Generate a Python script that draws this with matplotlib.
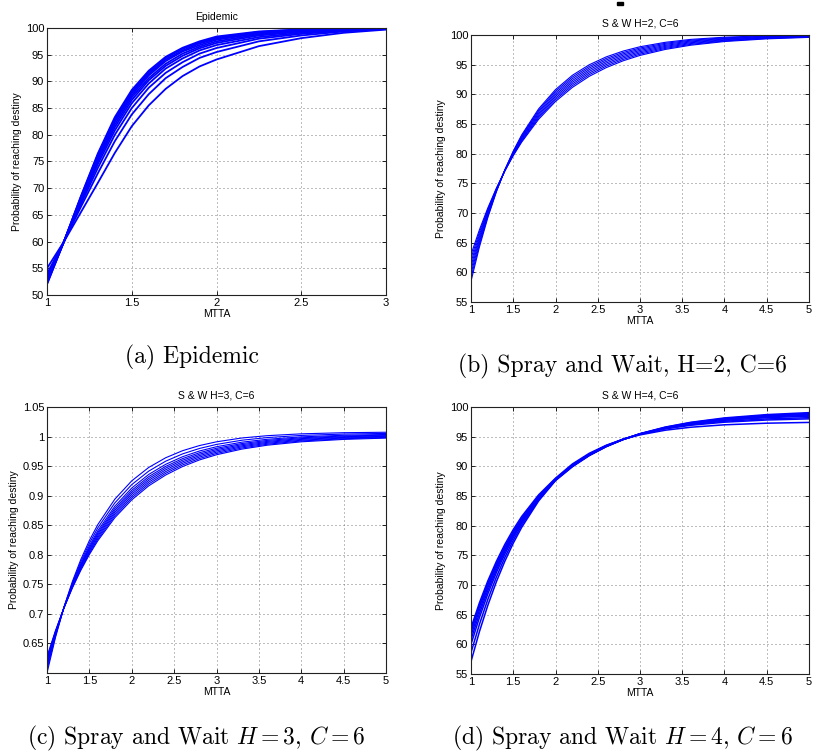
import matplotlib
matplotlib.use('Agg')
import matplotlib.pyplot as plt
from matplotlib.patches import Rectangle

plt.rcParams['font.family'] = ['Liberation Sans', 'DejaVu Sans']
plt.rcParams['mathtext.fontset'] = 'cm'

# ---------------- data ----------------
# (a) Epidemic
x_a = [1.0, 1.1, 1.2, 1.3, 1.4, 1.5, 1.6, 1.7, 1.8, 1.9, 2.0, 2.25, 2.5, 2.75, 3.0]
epidemic_curves = [
    [55.0, 60.0, 65.5, 71.0, 76.6, 81.6, 85.5, 88.6, 91.0, 92.8, 94.1, 96.6, 98.1, 99.1, 99.7],
    [54.0, 60.0, 66.5, 72.8, 78.8, 83.8, 87.6, 90.6, 92.7, 94.4, 95.5, 97.5, 98.6, 99.35, 99.8],
    [53.5, 60.0, 67.0, 73.8, 80.0, 85.0, 88.8, 91.6, 93.6, 95.2, 96.25, 98.0, 98.9, 99.5, 99.85],
    [53.1, 60.0, 67.4, 74.5, 80.8, 85.9, 89.6, 92.4, 94.3, 95.8, 96.8, 98.3, 99.1, 99.6, 99.9],
    [52.8, 60.0, 67.7, 75.0, 81.4, 86.5, 90.2, 92.9, 94.8, 96.2, 97.2, 98.6, 99.3, 99.7, 99.9],
    [52.6, 60.0, 67.9, 75.3, 81.9, 87.0, 90.6, 93.3, 95.2, 96.5, 97.5, 98.8, 99.4, 99.75, 99.95],
    [52.4, 60.0, 68.1, 75.7, 82.4, 87.4, 91.1, 93.8, 95.6, 96.8, 97.8, 99.0, 99.5, 99.8, 99.95],
    [52.3, 60.0, 68.2, 76.0, 82.7, 87.8, 91.4, 94.1, 95.8, 97.1, 98.0, 99.1, 99.6, 99.85, 100.0],
    [52.1, 60.0, 68.4, 76.3, 83.0, 88.1, 91.7, 94.4, 96.1, 97.3, 98.2, 99.25, 99.7, 99.9, 100.0],
    [52.0, 60.0, 68.5, 76.5, 83.3, 88.4, 92.0, 94.6, 96.3, 97.5, 98.4, 99.35, 99.75, 99.9, 100.0],
]

# (b) S & W H=2, C=6
x_b = [1.0, 1.1, 1.2, 1.3, 1.4, 1.5, 1.6, 1.8, 2.0, 2.2, 2.4, 2.6, 2.8, 3.0, 3.3, 3.6, 4.0, 4.5, 5.0]
sw2_curves = [
    [63.0, 67.18, 70.88, 74.17, 77.08, 79.66, 81.95, 85.79, 88.80, 91.17, 93.04, 94.50, 95.65, 96.56, 97.57, 98.28, 98.90, 99.35, 99.60],
    [62.36, 66.77, 70.65, 74.08, 77.10, 79.77, 82.12, 86.04, 89.09, 91.46, 93.32, 94.76, 95.88, 96.77, 97.74, 98.42, 99.00, 99.43, 99.66],
    [61.71, 66.35, 70.42, 74.00, 77.13, 79.88, 82.30, 86.29, 89.37, 91.75, 93.60, 95.02, 96.12, 96.98, 97.91, 98.56, 99.11, 99.50, 99.71],
    [61.07, 65.94, 70.19, 73.91, 77.15, 79.99, 82.47, 86.54, 89.66, 92.04, 93.88, 95.28, 96.35, 97.19, 98.08, 98.70, 99.21, 99.58, 99.77],
    [60.43, 65.53, 69.96, 73.82, 77.18, 80.10, 82.64, 86.79, 89.94, 92.33, 94.16, 95.54, 96.59, 97.40, 98.25, 98.84, 99.32, 99.65, 99.83],
    [59.79, 65.12, 69.73, 73.74, 77.20, 80.21, 82.82, 87.05, 90.23, 92.63, 94.44, 95.80, 96.82, 97.61, 98.43, 98.98, 99.42, 99.73, 99.89],
    [59.14, 64.70, 69.50, 73.65, 77.22, 80.32, 82.99, 87.30, 90.52, 92.92, 94.71, 96.05, 97.05, 97.81, 98.60, 99.12, 99.52, 99.81, 99.94],
    [58.50, 64.29, 69.27, 73.56, 77.25, 80.43, 83.16, 87.55, 90.80, 93.21, 94.99, 96.31, 97.29, 98.02, 98.77, 99.26, 99.63, 99.88, 100.0],
]

# (c) S & W H=3, C=6
x_c = [1.0, 1.1, 1.2, 1.3, 1.4, 1.5, 1.6, 1.8, 2.0, 2.2, 2.4, 2.6, 2.8, 3.0, 3.3, 3.6, 4.0, 4.5, 5.0]
sw3_curves = [
    [0.628, 0.6716, 0.7100, 0.7440, 0.7740, 0.8004, 0.8238, 0.8627, 0.8929, 0.9166, 0.9349, 0.9493, 0.9605, 0.9692, 0.9788, 0.9854, 0.9911, 0.9952, 0.9974],
    [0.6252, 0.6705, 0.7101, 0.7451, 0.7758, 0.8028, 0.8265, 0.8658, 0.8961, 0.9197, 0.9378, 0.9520, 0.9629, 0.9714, 0.9807, 0.9870, 0.9925, 0.9963, 0.9984],
    [0.6224, 0.6693, 0.7103, 0.7462, 0.7777, 0.8051, 0.8293, 0.8690, 0.8993, 0.9228, 0.9407, 0.9547, 0.9654, 0.9736, 0.9826, 0.9886, 0.9938, 0.9975, 0.9994],
    [0.6196, 0.6682, 0.7104, 0.7473, 0.7795, 0.8075, 0.8320, 0.8721, 0.9026, 0.9259, 0.9437, 0.9573, 0.9678, 0.9758, 0.9844, 0.9902, 0.9952, 0.9986, 1.0004],
    [0.6168, 0.6670, 0.7105, 0.7484, 0.7813, 0.8099, 0.8348, 0.8752, 0.9058, 0.9290, 0.9466, 0.9600, 0.9702, 0.9780, 0.9863, 0.9918, 0.9965, 0.9997, 1.0014],
    [0.6140, 0.6659, 0.7107, 0.7495, 0.7832, 0.8123, 0.8375, 0.8784, 0.9090, 0.9322, 0.9495, 0.9627, 0.9727, 0.9802, 0.9882, 0.9935, 0.9979, 1.0009, 1.0024],
    [0.6106, 0.6645, 0.7108, 0.7508, 0.7853, 0.8151, 0.8408, 0.8821, 0.9129, 0.9359, 0.9530, 0.9659, 0.9756, 0.9828, 0.9905, 0.9954, 0.9995, 1.0022, 1.0035],
    [0.6056, 0.6624, 0.7110, 0.7528, 0.7886, 0.8194, 0.8457, 0.8877, 0.9187, 0.9415, 0.9583, 0.9707, 0.9799, 0.9867, 0.9938, 0.9983, 1.0019, 1.0042, 1.0053],
    [0.6000, 0.6601, 0.7113, 0.7550, 0.7923, 0.8241, 0.8512, 0.8940, 0.9251, 0.9477, 0.9641, 0.9761, 0.9848, 0.9911, 0.9976, 1.0015, 1.0046, 1.0065, 1.0073],
]

# (d) S & W H=4, C=6
x_d = [1.0, 1.1, 1.2, 1.3, 1.4, 1.5, 1.6, 1.8, 2.0, 2.2, 2.4, 2.6, 2.8, 3.0, 3.3, 3.6, 4.0, 4.5, 5.0]
sw4_curves = [
    [57.1, 62.16, 66.61, 70.54, 73.99, 77.04, 79.72, 84.16, 87.60, 89.93, 91.81, 93.31, 94.52, 95.50, 96.62, 97.42, 98.16, 98.72, 99.05],
    [58.6, 63.39, 67.61, 71.33, 74.62, 77.53, 80.09, 84.34, 87.65, 89.99, 91.86, 93.35, 94.54, 95.50, 96.58, 97.36, 98.06, 98.59, 98.90],
    [60.0, 64.53, 68.54, 72.08, 75.21, 77.98, 80.43, 84.51, 87.70, 90.02, 91.87, 93.34, 94.51, 95.45, 96.51, 97.27, 97.94, 98.46, 98.75],
    [60.8, 65.20, 69.10, 72.54, 75.59, 78.28, 80.66, 84.64, 87.75, 90.08, 91.92, 93.38, 94.53, 95.45, 96.48, 97.21, 97.85, 98.33, 98.60],
    [61.5, 65.79, 69.59, 72.95, 75.92, 78.55, 80.88, 84.76, 87.80, 90.13, 91.97, 93.42, 94.55, 95.45, 96.45, 97.14, 97.76, 98.20, 98.45],
    [62.1, 66.32, 70.04, 73.34, 76.25, 78.82, 81.09, 84.89, 87.85, 90.22, 92.05, 93.48, 94.59, 95.45, 96.39, 97.04, 97.60, 97.99, 98.20],
    [62.4, 66.59, 70.30, 73.57, 76.45, 79.00, 81.25, 84.99, 87.90, 90.26, 92.08, 93.48, 94.56, 95.40, 96.31, 96.92, 97.44, 97.81, 98.00],
    [62.8, 67.01, 70.72, 73.97, 76.83, 79.34, 81.55, 85.19, 88.00, 90.40, 92.20, 93.55, 94.55, 95.30, 96.09, 96.59, 97.00, 97.27, 97.40],
]

titles = ['Epidemic', 'S & W H=2, C=6', 'S & W H=3, C=6', 'S & W H=4, C=6']
xticks_a = [1, 1.5, 2, 2.5, 3]
xticklabels_a = ['1', '1.5', '2', '2.5', '3']
xticks_bcd = [1, 1.5, 2, 2.5, 3, 3.5, 4, 4.5, 5]
xticklabels_bcd = ['1', '1.5', '2', '2.5', '3', '3.5', '4', '4.5', '5']
yticks_a = [50, 55, 60, 65, 70, 75, 80, 85, 90, 95, 100]
yticks_bd = [55, 60, 65, 70, 75, 80, 85, 90, 95, 100]
yticks_c = [0.65, 0.7, 0.75, 0.8, 0.85, 0.9, 0.95, 1.0, 1.05]
yticklabels_c = ['0.65', '0.7', '0.75', '0.8', '0.85', '0.9', '0.95', '1', '1.05']
captions = ['(a) Epidemic', '(b) Spray and Wait, H=2, C=6',
            '(c) Spray and Wait $H = 3$, $C = 6$', '(d) Spray and Wait $H = 4$, $C = 6$']

# ---------------- figure ----------------
W, H = 814, 754
fig = plt.figure(figsize=(W / 100, H / 100), dpi=100)


def box(l, t, r, b):
    return [l / W, 1 - b / H, (r - l) / W, (b - t) / H]


panels = [
    dict(rect=box(47, 28, 386, 295), x=x_a, ys=epidemic_curves, xlim=(1, 3), ylim=(50, 100),
         xt=xticks_a, xtl=xticklabels_a, yt=yticks_a, ytl=[str(v) for v in yticks_a], lw=1.3),
    dict(rect=box(471, 35, 809, 302), x=x_b, ys=sw2_curves, xlim=(1, 5), ylim=(55, 100),
         xt=xticks_bcd, xtl=xticklabels_bcd, yt=yticks_bd, ytl=[str(v) for v in yticks_bd], lw=0.8),
    dict(rect=box(47, 407, 386, 673), x=x_c, ys=sw3_curves, xlim=(1, 5), ylim=(0.6, 1.05),
         xt=xticks_bcd, xtl=xticklabels_bcd, yt=yticks_c, ytl=yticklabels_c, lw=0.8),
    dict(rect=box(471, 407, 809, 674), x=x_d, ys=sw4_curves, xlim=(1, 5), ylim=(55, 100),
         xt=xticks_bcd, xtl=xticklabels_bcd, yt=yticks_bd, ytl=[str(v) for v in yticks_bd], lw=1.1),
]

for p, title in zip(panels, titles):
    ax = fig.add_axes(p['rect'])
    for y in p['ys']:
        ax.plot(p['x'], y, color='#0000ff', lw=p['lw'], solid_joinstyle='round')
    ax.set_xlim(*p['xlim'])
    ax.set_ylim(*p['ylim'])
    ax.set_xticks(p['xt'])
    ax.set_xticklabels(p['xtl'])
    ax.set_yticks(p['yt'])
    ax.set_yticklabels(p['ytl'])
    ax.grid(True, color='#666666', linestyle=(0, (1.2, 3.6)), linewidth=0.6)
    ax.tick_params(direction='in', length=3, width=0.6, top=True, right=True,
                   labelsize=8, pad=2)
    for s in ax.spines.values():
        s.set_linewidth(0.8)
        s.set_color('#222222')
    ax.set_title(title, fontsize=7.5, pad=6)
    ax.set_xlabel('MTTA', fontsize=7.5, labelpad=1)
    ax.set_ylabel('Probability of reaching destiny', fontsize=7.5, labelpad=3)

cap_pos = [(192, 357), (622, 366), (196, 738), (623, 738)]
for (cx, cy), txt in zip(cap_pos, captions):
    fig.text(cx / W, 1 - cy / H, txt, family='cmr10', fontsize=17,
             ha='center', va='center')

# small mark at top of panel (b)
fig.add_artist(Rectangle((617 / W, 1 - 5 / H), 6 / W, 3 / H,
                         transform=fig.transFigure, color='black'))

fig.savefig('out.png', dpi=100)
